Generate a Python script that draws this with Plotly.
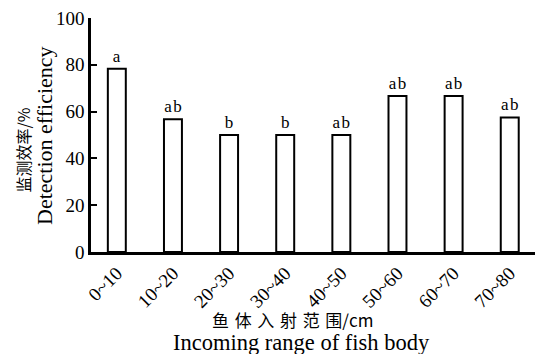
import plotly.graph_objects as go

categories = ["0~10", "10~20", "20~30", "30~40", "40~50", "50~60", "60~70", "70~80"]
efficiency = [78.3, 56.7, 50.0, 50.0, 50.0, 66.7, 66.7, 57.5]
letters = ["a", "ab", "b", "b", "ab", "ab", "ab", "ab"]
y_ticks = [0, 20, 40, 60, 80, 100]

FONT = "Liberation Serif, Times New Roman, Noto Sans CJK SC, serif"
CJK = "Noto Sans CJK SC, Liberation Serif, serif"

# plot area in pixels
L, R, T, B = 91, 535, 12, 252
W, H = 543, 354


def px(x):
    return (x - L) / (R - L)


def py(y):
    return (B - y) / (B - T)


fig = go.Figure()
fig.add_trace(go.Bar(
    x=list(range(len(categories))),
    y=efficiency,
    width=0.32,
    marker=dict(color="white", line=dict(color="black", width=2)),
    text=["\u200a".join(s) for s in letters],
    textposition="outside",
    textfont=dict(family=FONT, size=17, color="black"),
    cliponaxis=False,
))

fig.update_layout(
    width=W, height=H,
    margin=dict(l=L, r=W - R, t=T, b=H - B),
    paper_bgcolor="white", plot_bgcolor="white",
    showlegend=False,
    font=dict(family=FONT, color="black"),
)
fig.update_xaxes(
    range=[-0.46, 7.45],
    tickmode="array",
    tickvals=list(range(len(categories))),
    ticktext=categories,
    tickangle=-45,
    ticks="",
    showline=True, linecolor="black", linewidth=2.5,
    showgrid=False, zeroline=False,
    tickfont=dict(family=FONT, size=19, color="black"),
)
fig.update_yaxes(
    range=[0, 100],
    tickmode="array",
    tickvals=y_ticks,
    ticks="inside", ticklen=6, tickwidth=2, tickcolor="black",
    showline=True, linecolor="black", linewidth=2.5,
    showgrid=False, zeroline=False,
    tickfont=dict(family=FONT, size=19, color="black"),
)

ann = [
    dict(text="监测效率/%", x=px(23), y=py(148), textangle=-90,
         font=dict(family=CJK, size=16, color="black")),
    dict(text="Detection efficiency", x=px(45), y=py(133), textangle=-90,
         font=dict(family=FONT, size=22, color="black")),
    dict(text="\u2004".join(list("鱼体入射范围")) + "/cm", x=px(292), y=py(321),
         font=dict(family=CJK, size=17, color="black")),
    dict(text="Incoming range of fish body", x=px(301), y=py(345),
         font=dict(family=FONT, size=22.5, color="black")),
]
for a in ann:
    fig.add_annotation(xref="paper", yref="paper", xanchor="center", yanchor="middle",
                       showarrow=False, **a)

fig.write_html("out.html")
